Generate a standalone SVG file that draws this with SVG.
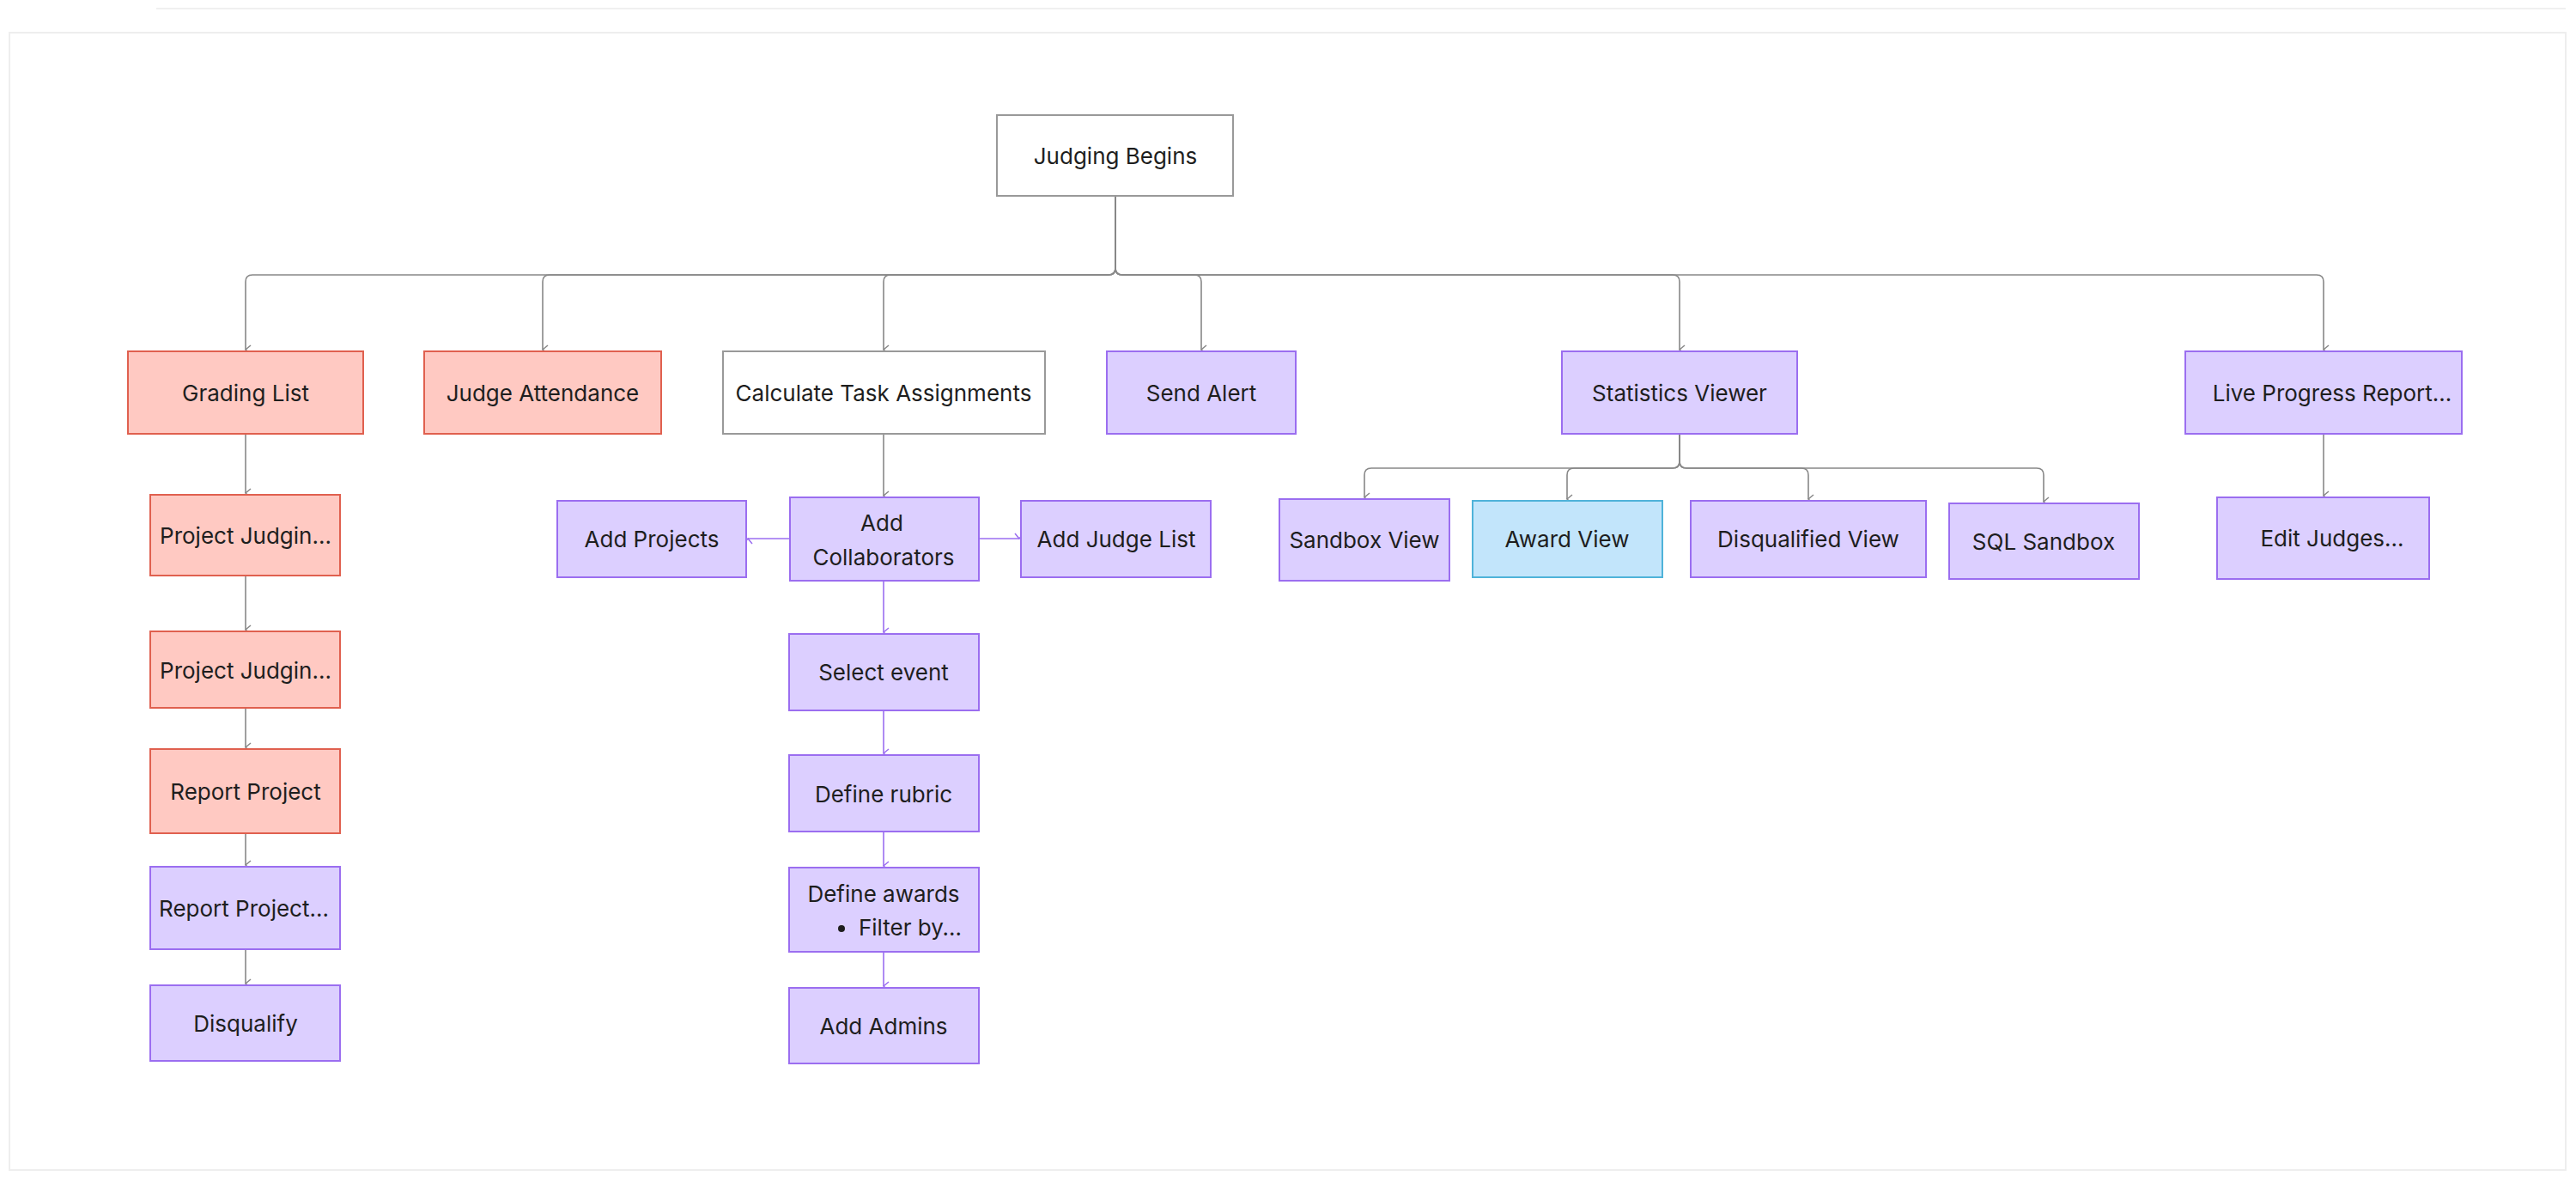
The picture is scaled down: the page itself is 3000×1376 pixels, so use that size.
<svg xmlns="http://www.w3.org/2000/svg" width="3000" height="1376" viewBox="0 0 3000 1376">
<defs>
<marker id="ag" markerWidth="12" markerHeight="12" refX="6" refY="10" orient="auto-start-reverse" markerUnits="userSpaceOnUse" viewBox="0 0 12 12"><path d="M1 4 L6 10 L11 4" fill="none" stroke="#888" stroke-width="1.5"/></marker>
<marker id="ap" markerWidth="12" markerHeight="12" refX="6" refY="10" orient="auto" markerUnits="userSpaceOnUse" viewBox="0 0 12 12"><path d="M1 4 L6 10 L11 4" fill="none" stroke="#9b6ef0" stroke-width="1.5"/></marker>
<style>
text{font-family:Inter,"Liberation Sans",sans-serif;font-size:26px;fill:#1e1e1e;text-anchor:middle;dominant-baseline:central}
.w{fill:#fff;stroke:#999;stroke-width:2}
.r{fill:#ffc9c2;stroke:#e0604f;stroke-width:2}
.p{fill:#dccfff;stroke:#9b6ef0;stroke-width:2}
.b{fill:#c2e5fb;stroke:#4fb3d9;stroke-width:2}
.cg{fill:none;stroke:#888;stroke-width:1.6;marker-end:url(#ag)}
.cp{fill:none;stroke:#9b6ef0;stroke-width:1.6;marker-end:url(#ap)}
</style>
</defs>
<rect width="3000" height="1376" fill="#fff"/>
<rect x="11" y="38" width="2977" height="1324" fill="none" stroke="#eee" stroke-width="2"/>
<line x1="182" y1="10" x2="2988" y2="10" stroke="#f0f0f0" stroke-width="2"/>
<g id="connectors">
<path class="cg" d="M1299 228 V312 Q1299 320 1291 320 H294 Q286 320 286 328 V407"/>
<path class="cg" d="M1299 228 V312 Q1299 320 1291 320 H640 Q632 320 632 328 V407"/>
<path class="cg" d="M1299 228 V312 Q1299 320 1291 320 H1037 Q1029 320 1029 328 V407"/>
<path class="cg" d="M1299 228 V312 Q1299 320 1307 320 H1391 Q1399 320 1399 328 V407"/>
<path class="cg" d="M1299 228 V312 Q1299 320 1307 320 H1948 Q1956 320 1956 328 V407"/>
<path class="cg" d="M1299 228 V312 Q1299 320 1307 320 H2698 Q2706 320 2706 328 V407"/>
<path class="cg" d="M286 505 V574"/>
<path class="cg" d="M286 670 V733"/>
<path class="cg" d="M286 824 V870"/>
<path class="cg" d="M286 970 V1007"/>
<path class="cg" d="M286 1105 V1145"/>
<path class="cg" d="M1029 505 V577"/>
<path class="cp" d="M920 627 H871"/>
<path class="cp" d="M1140 627 H1187"/>
<path class="cp" d="M1029 676 V736"/>
<path class="cp" d="M1029 827 V877"/>
<path class="cp" d="M1029 968 V1008"/>
<path class="cp" d="M1029 1108 V1148"/>
<path class="cg" d="M1956 505 V537 Q1956 545 1948 545 H1597 Q1589 545 1589 553 V579"/>
<path class="cg" d="M1956 505 V537 Q1956 545 1948 545 H1833 Q1825 545 1825 553 V581"/>
<path class="cg" d="M1956 505 V537 Q1956 545 1964 545 H2098 Q2106 545 2106 553 V581"/>
<path class="cg" d="M1956 505 V537 Q1956 545 1964 545 H2372 Q2380 545 2380 553 V584"/>
<path class="cg" d="M2706 505 V577"/>
</g>
<g id="judging-begins"><rect class="w" x="1161" y="134" width="275" height="94"/><text x="1299" y="181">Judging Begins</text></g>
<g id="grading-list"><rect class="r" x="149" y="409" width="274" height="96"/><text x="286" y="457">Grading List</text></g>
<g id="judge-attendance"><rect class="r" x="494" y="409" width="276" height="96"/><text x="632" y="457">Judge Attendance</text></g>
<g id="calc-task"><rect class="w" x="842" y="409" width="375" height="96"/><text x="1029" y="457">Calculate Task Assignments</text></g>
<g id="send-alert"><rect class="p" x="1289" y="409" width="220" height="96"/><text x="1399" y="457">Send Alert</text></g>
<g id="stats-viewer"><rect class="p" x="1819" y="409" width="274" height="96"/><text x="1956" y="457">Statistics Viewer</text></g>
<g id="live-progress"><rect class="p" x="2545" y="409" width="322" height="96"/><text x="2716" y="457">Live Progress Report...</text></g>
<g id="project-judging-1"><rect class="r" x="175" y="576" width="221" height="94"/><text x="286" y="623">Project Judgin...</text></g>
<g id="project-judging-2"><rect class="r" x="175" y="735" width="221" height="89"/><text x="286" y="780">Project Judgin...</text></g>
<g id="report-project"><rect class="r" x="175" y="872" width="221" height="98"/><text x="286" y="921">Report Project</text></g>
<g id="report-project-2"><rect class="p" x="175" y="1009" width="221" height="96"/><text x="284" y="1057">Report Project...</text></g>
<g id="disqualify"><rect class="p" x="175" y="1147" width="221" height="88"/><text x="286" y="1191">Disqualify</text></g>
<g id="add-projects"><rect class="p" x="649" y="583" width="220" height="89"/><text x="759" y="627">Add Projects</text></g>
<g id="add-collaborators"><rect class="p" x="920" y="579" width="220" height="97"/><text x="1027" y="608">Add</text><text x="1029" y="648">Collaborators</text></g>
<g id="add-judge-list"><rect class="p" x="1189" y="583" width="221" height="89"/><text x="1300" y="627">Add Judge List</text></g>
<g id="select-event"><rect class="p" x="919" y="738" width="221" height="89"/><text x="1029" y="782">Select event</text></g>
<g id="define-rubric"><rect class="p" x="919" y="879" width="221" height="89"/><text x="1029" y="924">Define rubric</text></g>
<g id="define-awards"><rect class="p" x="919" y="1010" width="221" height="98"/><text x="1029" y="1040">Define awards</text><circle cx="980" cy="1081" r="4" fill="#1e1e1e"/><text x="1060" y="1079">Filter by...</text></g>
<g id="add-admins"><rect class="p" x="919" y="1150" width="221" height="88"/><text x="1029" y="1194">Add Admins</text></g>
<g id="sandbox-view"><rect class="p" x="1490" y="581" width="198" height="95"/><text x="1589" y="628">Sandbox View</text></g>
<g id="award-view"><rect class="b" x="1715" y="583" width="221" height="89"/><text x="1825" y="627">Award View</text></g>
<g id="disqualified-view"><rect class="p" x="1969" y="583" width="274" height="89"/><text x="2106" y="627">Disqualified View</text></g>
<g id="sql-sandbox"><rect class="p" x="2270" y="586" width="221" height="88"/><text x="2380" y="630">SQL Sandbox</text></g>
<g id="edit-judges"><rect class="p" x="2582" y="579" width="247" height="95"/><text x="2716" y="626">Edit Judges...</text></g>
</svg>
